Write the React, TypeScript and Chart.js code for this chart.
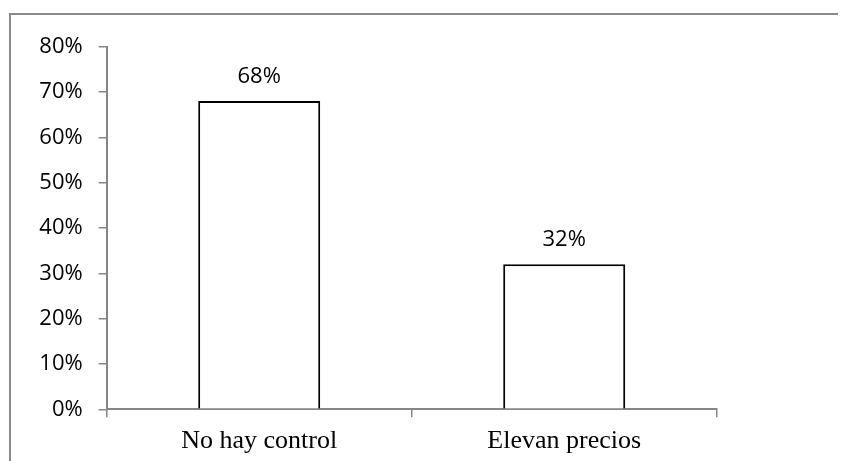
import React, { useEffect, useRef } from "react";
import { Chart, registerables } from "chart.js";

Chart.register(...registerables);

const categories: string[] = ["No hay control", "Elevan precios"];
const values: number[] = [68, 32];
const yTickValues: number[] = [0, 10, 20, 30, 40, 50, 60, 70, 80];

const AXIS_GRAY = "#868686";
const SANS = "'Open Sans'";

const valueLabelPlugin = {
  id: "valueLabels",
  afterDatasetsDraw(chart: any) {
    const ctx = chart.ctx;
    const meta = chart.getDatasetMeta(0);
    ctx.save();
    ctx.font = "22px " + SANS;
    ctx.fillStyle = "#000";
    ctx.textAlign = "center";
    ctx.textBaseline = "alphabetic";
    meta.data.forEach((el: any, i: number) => {
      ctx.fillText(values[i] + "%", el.x, el.y - 18);
    });
    ctx.restore();
  },
};

export default function App() {
  const ref = useRef<HTMLCanvasElement | null>(null);
  useEffect(() => {
    if (!ref.current) return;
    const chart = new Chart(ref.current, {
      type: "bar",
      data: {
        labels: categories,
        datasets: [
          {
            data: values,
            backgroundColor: "#ffffff",
            borderColor: "#000000",
            borderWidth: 2,
            borderSkipped: "bottom",
            barPercentage: 1,
            categoryPercentage: 0.4,
          },
        ],
      },
      options: {
        animation: false,
        responsive: false,
        events: [],
        layout: { padding: { left: 0, top: 38.7, right: 129.3, bottom: 0 } },
        plugins: { legend: { display: false }, tooltip: { enabled: false } },
        scales: {
          x: {
            grid: {
              display: true,
              drawOnChartArea: false,
              drawTicks: true,
              tickLength: 8,
              color: AXIS_GRAY,
              lineWidth: 1.5,
              offset: true,
            },
            border: { display: true, color: AXIS_GRAY, width: 2 },
            ticks: {
              color: "#000",
              font: { family: "'Liberation Serif'", size: 26 },
              padding: 8,
              maxRotation: 0,
            },
            afterFit: (scale: any) => {
              scale.height = 51.7;
            },
          },
          y: {
            min: yTickValues[0],
            max: yTickValues[yTickValues.length - 1],
            afterBuildTicks: (scale: any) => {
              scale.ticks = yTickValues.map((v) => ({ value: v }));
            },
            grid: {
              display: true,
              drawOnChartArea: false,
              drawTicks: true,
              tickLength: 8,
              color: AXIS_GRAY,
              lineWidth: 1.5,
            },
            border: { display: true, color: AXIS_GRAY, width: 2 },
            ticks: {
              color: "#000",
              font: { family: SANS, size: 22 },
              padding: 16,
              callback: (v: any) => v + "%",
            },
            afterFit: (scale: any) => {
              scale.width = 98.7;
            },
          },
        },
      },
      plugins: [valueLabelPlugin],
    });
    return () => chart.destroy();
  }, []);

  return (
    <div style={{ position: "relative", width: 838, height: 453, overflow: "hidden", background: "#fff" }}>
      <div
        style={{
          position: "absolute",
          left: 1,
          top: 5,
          width: 1200,
          height: 1200,
          borderLeft: "2px solid #8a8a8a",
          borderTop: "2px solid #8a8a8a",
          boxSizing: "border-box",
        }}
      />
      <canvas ref={ref} width={838} height={453} style={{ position: "absolute", left: 0, top: 0 }} />
    </div>
  );
}
